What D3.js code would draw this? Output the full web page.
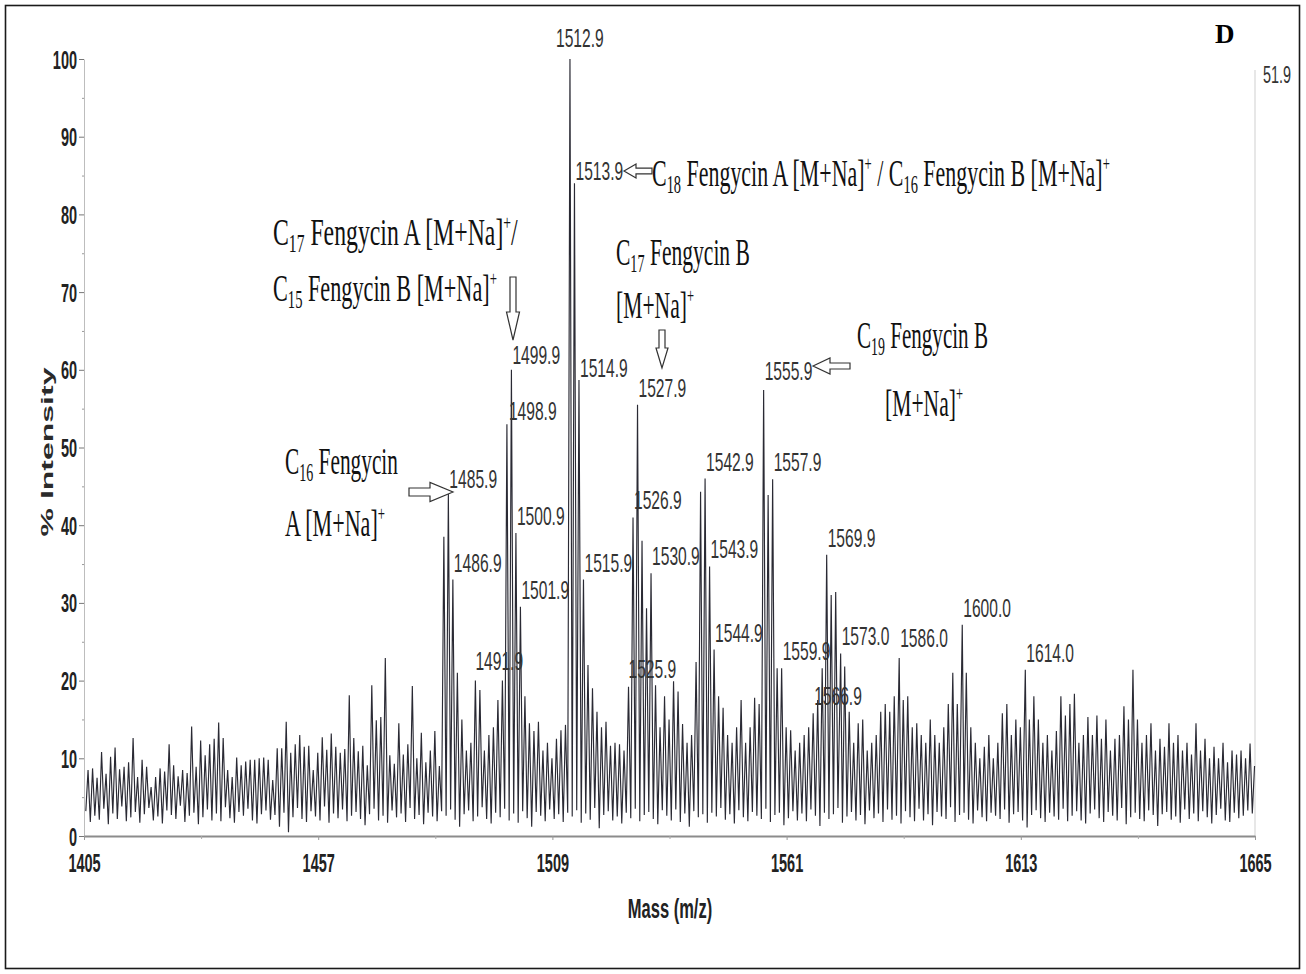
<!DOCTYPE html>
<html>
<head>
<meta charset="utf-8">
<script src="https://cdn.jsdelivr.net/npm/d3@7"></script>
<style>
  body { margin: 0; background: white; }
  text { white-space: pre; }
</style>
</head>
<body>
<div id="container"></div>
<script>
let w = 1306;
let h = 974;

// axis ticks
let massTicks = [1405, 1457, 1509, 1561, 1613, 1665];
let massMinor = [1431, 1483, 1535, 1587, 1639];
let pctTicks = [0, 10, 20, 30, 40, 50, 60, 70, 80, 90, 100];
let pctMinor = [5, 15, 25, 35, 45, 55, 65, 75, 85, 95];

// cluster peaks (m/z, % intensity)
let peakMz = [1484.9, 1485.9, 1486.9, 1487.9, 1491.9,
  1498.9, 1499.9, 1500.9, 1501.9, 1502.9,
  1512.9, 1513.9, 1514.9, 1515.9, 1516.9,
  1525.9, 1526.9, 1527.9, 1528.9, 1529.9, 1530.9, 1531.9,
  1540.9, 1541.9, 1542.9, 1543.9, 1544.9, 1545.9, 1546.9,
  1555.9, 1556.9, 1557.9, 1558.9, 1559.9,
  1566.9, 1567.9, 1568.9, 1569.9, 1570.9, 1571.9, 1573.0, 1573.9, 1574.9,
  1586.0, 1600.0, 1614.0];
let peakPct = [38.5, 44, 33, 21, 20,
  53, 60, 39, 29.5, 18,
  100, 84, 58.7, 33, 22,
  19.2, 41, 55.5, 38, 29.3, 33.8, 19.4,
  22.4, 44.3, 46, 34.7, 24, 18, 16.5,
  57.4, 43.9, 45.9, 21.6, 21.6,
  15.8, 17.5, 21.6, 36.2, 31, 31.4, 23.5, 21.8, 16,
  22.9, 27.2, 21.4];

// peaks carrying a mass label
let labelledMz = [1485.9, 1486.9, 1491.9, 1498.9, 1499.9, 1500.9, 1501.9,
  1512.9, 1513.9, 1514.9, 1515.9, 1525.9, 1526.9, 1527.9, 1530.9,
  1542.9, 1543.9, 1544.9, 1555.9, 1557.9, 1559.9,
  1566.9, 1569.9, 1573.0, 1586.0, 1600.0, 1614.0];

// background noise, one spike per unit from 1405.9 (null = cluster peak there)
let noiseHi = [
  8.5, 8.7, 7.5, 10.8, 8.0, 10.2, 11.4, 8.6, 8.9, 9.5, 12.6, 7.6, 9.8, 8.9, 6.3, 7.6, 8.7, 8.3, 11.8, 9.1,
  7.7, 8.5, 8.1, 14.1, 8.9, 12.3, 10.4, 11.8, 12.5, 14.6, 12.6, 8.5, 7.6, 10.1, 9.1, 9.6, 9.8, 9.8, 10.0, 10.1,
  9.8, 7.2, 11.3, 11.3, 14.7, 10.7, 11.8, 13.0, 11.5, 11.6, 8.5, 10.7, 12.7, 11.1, 13.2, 11.5, 10.7, 11.2, 18.1, 12.6,
  10.9, 11.6, 9.1, 19.4, 14.9, 15.3, 22.9, 10.4, 9.3, 14.5, 10.5, 11.8, 19.3, 10.0, 13.3, 9.5, 11.0, 13.5, 9.0, null,
  null, null, null, 15.0, 11.0, 12.0, null, 18.8, 11.0, 13.0, 14.0, 17.5, 20.0, null, null, null, null, null, 14.5, 13.5,
  14.7, 11.0, 12.0, 10.0, 12.5, 13.6, 14.3, null, null, null, null, null, 19.0, 16.0, 14.0, 14.7, 11.6, 12.0, 11.8, 11.0,
  null, null, null, null, null, null, null, 14.0, 18.0, 15.0, 19.9, 18.6, 14.4, 12.0, 13.0, null, null, null, null, null,
  null, null, 13.0, 12.0, 14.0, 17.5, 12.0, 14.0, 17.8, 17.0, null, null, null, null, null, 14.0, 13.6, 11.0, 12.0, 13.0,
  14.0, null, null, null, null, null, null, null, null, null, 12.0, 14.5, 15.0, 11.0, 12.0, 13.0, 16.0, 17.0, 16.0, 18.0,
  null, 17.5, 18.0, 14.0, 14.5, 13.0, 12.0, 15.0, 13.0, 12.0, 14.0, 17.0, 21.0, 17.0, null, 21.0, 14.0, 12.0, 10.0, 11.5,
  13.0, 10.0, 12.0, 15.8, 17.0, 13.0, 15.0, 14.0, null, 15.0, 18.0, 15.0, 12.0, 13.0, 11.0, 13.5, 18.0, 15.5, 17.0, 18.3,
  12.0, 13.0, 15.3, 13.0, 15.5, 12.5, 15.0, 11.0, 12.5, 13.0, 16.7, 15.0, 21.4, 15.0, 12.0, 13.0, 14.5, 11.0, 12.5, 11.5,
  14.5, 12.0, 13.0, 11.0, 12.0, 10.5, 14.5, 11.0, 12.5, 10.0, 11.5, 10.0, 12.0, 9.5, 11.0, 10.5, 11.0, 10.0, 11.9, 9.0
];
// valleys between the spikes, one per unit from 1405.4
let noiseLo = [
  3.2, 1.8, 2.6, 2.1, 3.5, 1.5, 2.9, 2.2, 3.8, 1.9, 2.4, 3.1, 1.7, 2.8, 3.6, 2.0, 2.5, 1.6, 3.3, 2.7,
  2.2, 3.9, 1.8, 2.6, 3.0, 1.5, 2.4, 3.4, 2.0, 2.9, 1.9, 3.7, 2.3, 1.7, 3.1, 2.6, 3.5, 2.0, 1.6, 2.8,
  3.3, 2.1, 2.7, 1.2, 3.0, 0.5, 2.4, 3.6, 2.2, 1.8, 3.2, 2.5, 2.0, 3.8, 1.7, 2.9, 2.3, 3.4, 1.9, 2.6,
  3.1, 2.2, 1.4, 2.8, 3.5, 2.0, 2.6, 1.7, 3.3, 2.4, 2.9, 1.8, 3.6, 2.2, 2.7, 1.5, 3.0, 2.5, 1.9, 3.2,
  2.6, 3.4, 2.1, 1.2, 2.8, 3.3, 1.9, 2.5, 3.7, 2.2, 1.6, 3.0, 2.4, 3.5, 2.0, 2.9, 1.7, 3.2, 2.3, 1.2,
  3.1, 2.6, 1.9, 3.4, 2.2, 2.8, 1.8, 3.0, 2.5, 3.3, 1.7, 2.9, 2.1, 3.6, 1.0, 2.7, 3.2, 2.0, 2.5, 1.6,
  3.0, 2.3, 3.5, 1.9, 2.7, 3.1, 2.2, 1.5, 3.3, 2.6, 2.0, 3.4, 1.8, 2.9, 1.2, 3.2, 2.4, 2.8, 1.7, 3.0,
  2.5, 3.6, 2.1, 2.8, 1.6, 3.3, 2.4, 1.9, 3.1, 2.6, 2.2, 3.5, 1.8, 2.7, 3.0, 1.4, 2.3, 3.2, 2.0, 2.9,
  1.9, 3.4, 2.6, 1.3, 3.0, 2.2, 2.8, 3.6, 1.7, 2.5, 3.1, 2.0, 2.7, 1.5, 3.3, 2.3, 2.9, 1.8, 3.4, 2.1,
  2.6, 1.6, 3.2, 2.4, 1.9, 3.5, 2.0, 2.8, 1.4, 3.1, 2.5, 2.2, 3.7, 1.8, 2.7, 3.0, 2.1, 1.6, 3.3, 2.4,
  1.9, 3.0, 2.6, 2.2, 3.4, 1.7, 2.8, 3.1, 2.0, 1.1, 2.7, 3.3, 2.3, 1.8, 3.0, 2.5, 2.1, 3.5, 1.9, 2.6,
  3.2, 2.0, 1.6, 2.9, 3.4, 2.3, 1.8, 3.1, 2.6, 2.0, 3.6, 1.5, 2.4, 3.0, 2.2, 1.9, 3.3, 2.7, 1.3, 2.8,
  3.1, 2.1, 2.5, 1.7, 3.4, 2.2, 2.9, 1.9, 3.2, 2.4, 1.6, 2.7, 3.5, 2.0, 1.8, 3.0, 2.3, 2.6, 3.3, 2.9
];

let sansFont = "'Liberation Sans', Arial, sans-serif";
let serifFont = "'Liberation Serif', 'Times New Roman', serif";

let viz = d3.select("#container")
  .append("svg")
    .attr("width", w)
    .attr("height", h)
    .style("background-color", "white")
;

let x = d3.scaleLinear().domain([1405, 1665]).range([84, 1255]);
let y = d3.scaleLinear().domain([0, 100]).range([836, 59]);

//outer frame
viz.append("rect")
  .attr("x", 5.5).attr("y", 5.5)
  .attr("width", 1294).attr("height", 963)
  .attr("fill", "none")
  .style("stroke", "#1a1a1a")
  .style("stroke-width", 1.6)
;

//right edge of the plot
viz.append("line")
  .attr("x1", x(1665)).attr("x2", x(1665))
  .attr("y1", 70).attr("y2", y(0))
  .style("stroke", "#cfcfcf")
  .style("stroke-width", 1)
;

//y axis
let yAxis = viz.append("g")
  .attr("transform", "translate(" + x(1405) + ",0)")
  .call(d3.axisLeft(y).tickValues(pctTicks).tickSize(5).tickSizeOuter(0));
yAxis.select(".domain").style("stroke", "#bdbdbd");
yAxis.selectAll(".tick line").style("stroke", "#777");
yAxis.selectAll(".tick text")
  .attr("x", -7 / 0.58)
  .attr("dy", "0.36em")
  .attr("transform", "scale(0.58,1)")
  .style("font-family", sansFont)
  .style("font-weight", "bold")
  .style("font-size", "25px")
  .style("fill", "#222")
;
viz.append("g")
  .attr("transform", "translate(" + x(1405) + ",0)")
  .call(d3.axisLeft(y).tickValues(pctMinor).tickSize(2).tickFormat(""))
  .call(g => g.select(".domain").remove())
  .selectAll(".tick line").style("stroke", "#999")
;

//x axis
let xAxis = viz.append("g")
  .attr("transform", "translate(0," + y(0) + ")")
  .call(d3.axisBottom(x).tickValues(massTicks).tickFormat(d3.format("d")).tickSize(4).tickSizeOuter(0));
xAxis.select(".domain").style("stroke", "#8c8c8c").style("stroke-width", 2);
xAxis.selectAll(".tick line").style("stroke", "#999");
xAxis.selectAll(".tick text")
  .attr("y", 36)
  .attr("dy", 0)
  .attr("transform", "scale(0.58,1)")
  .style("font-family", sansFont)
  .style("font-weight", "bold")
  .style("font-size", "25px")
  .style("fill", "#222")
;
viz.append("g")
  .attr("transform", "translate(0," + y(0) + ")")
  .call(d3.axisBottom(x).tickValues(massMinor).tickSize(3).tickFormat(""))
  .call(g => g.select(".domain").remove())
  .selectAll(".tick line").style("stroke", "#aaa")
;

//spectrum trace
let peakAt = {};
peakMz.forEach(function(m, k){
  peakAt[Math.round(m - 1405.9)] = [m, peakPct[k]];
});
let trace = [];
noiseLo.forEach(function(lo, i){
  trace.push([1405 + i + 0.4, lo]);
  if (peakAt[i]) {
    trace.push(peakAt[i]);
  } else {
    trace.push([1405 + i + 0.9, noiseHi[i]]);
  }
});
let line = d3.line()
  .x(d => x(d[0]))
  .y(d => y(d[1]));
viz.append("path")
  .attr("d", line(trace))
  .attr("fill", "none")
  .style("stroke", "#2a2a34")
  .style("stroke-width", 1.15)
;

//peak labels
let nudge = {
  "1512.9": [-14, -12], "1513.9": [1, -3], "1514.9": [1, -2.5],
  "1498.9": [2, -4.5], "1499.9": [1, -5.5], "1485.9": [1, -6.5],
  "1491.9": [0, -11], "1586.0": [1, -11], "1555.9": [1, -10], "1525.9": [0, -9]
};
viz.selectAll(".peakLabel").data(labelledMz).enter()
  .append("text")
    .attr("class", "peakLabel")
    .text(d => d.toFixed(1))
    .attr("transform", function(d){
      let k = peakMz.indexOf(d);
      let n = nudge[d.toFixed(1)] || [1, -8];
      return "translate(" + (x(d) + n[0]) + "," + (y(peakPct[k]) + n[1]) + ") scale(0.6,1)";
    })
    .style("font-family", sansFont)
    .style("font-size", "26px")
    .style("fill", "#333")
;

//axis titles
viz.append("text")
  .text("Mass (m/z)")
  .attr("text-anchor", "middle")
  .attr("transform", "translate(670,918) scale(0.59,1)")
  .style("font-family", sansFont)
  .style("font-weight", "bold")
  .style("font-size", "28px")
  .style("fill", "#222")
;
let yTitle = viz.append("text")
  .text("% Intensity")
  .attr("text-anchor", "middle")
  .style("font-family", sansFont)
  .style("font-weight", "bold")
  .style("font-size", "17px")
  .style("fill", "#2a2a2a")
;
let yTitleW = yTitle.node().getBBox().width;
yTitle.attr("transform", "translate(53,452) rotate(-90) scale(" + (170 / yTitleW) + ",1)");

viz.append("text")
  .text("51.9")
  .attr("transform", "translate(1263,83) scale(0.6,1)")
  .style("font-family", sansFont)
  .style("font-size", "24px")
  .style("fill", "#333")
;

viz.append("text")
  .text("D")
  .attr("x", 1215)
  .attr("y", 43)
  .style("font-family", serifFont)
  .style("font-weight", "bold")
  .style("font-size", "27px")
  .style("fill", "#000")
;

//annotations in Times with sub/superscripts, squeezed to the widths in the picture
function richText(px, py, parts, width){
  let t = viz.append("text")
    .style("font-family", serifFont)
    .style("font-size", "38px")
    .style("fill", "#111");
  let shift = 0;
  parts.forEach(function(p){
    let kind = p[1];
    let target = kind === "sub" ? 7 : kind === "sup" ? -15 : 0;
    let ts = t.append("tspan").text(p[0]).attr("dy", target - shift);
    shift = target;
    if (kind === "sub") ts.style("font-size", "25px");
    if (kind === "sup") ts.style("font-size", "22px");
  });
  let bw = t.node().getBBox().width;
  t.attr("transform", "translate(" + px + "," + py + ") scale(" + (width / bw) + ",1)");
}

let mNa = [["[M+Na]"], ["+", "sup"]];
richText(273, 245, [["C"], ["17", "sub"], [" Fengycin A [M+Na]"], ["+", "sup"], ["/"]], 245);
richText(273, 301, [["C"], ["15", "sub"], [" Fengycin B [M+Na]"], ["+", "sup"]], 224);
richText(652, 186, [["C"], ["18", "sub"], [" Fengycin A [M+Na]"], ["+", "sup"], [" / C"], ["16", "sub"], [" Fengycin B [M+Na]"], ["+", "sup"]], 458);
richText(616, 265, [["C"], ["17", "sub"], [" Fengycin B"]], 134);
richText(616, 318, mNa, 78);
richText(857, 348, [["C"], ["19", "sub"], [" Fengycin B"]], 131);
richText(885, 416, mNa, 78);
richText(285, 474, [["C"], ["16", "sub"], [" Fengycin"]], 113);
richText(285, 536, [["A [M+Na]"], ["+", "sup"]], 100);

//hollow block arrows: tip, direction, total length, head length, half widths
function blockArrow(tx, ty, dir, len, head, sh, hh){
  let pts = [[0, 0], [head, -hh], [head, -sh], [len, -sh], [len, sh], [head, sh], [head, hh]];
  let rot = {left: 0, right: 180, down: -90, up: 90}[dir];
  viz.append("polygon")
    .attr("points", pts.map(p => p.join(",")).join(" "))
    .attr("transform", "translate(" + tx + "," + ty + ") rotate(" + rot + ")")
    .attr("fill", "white")
    .style("stroke", "#333")
    .style("stroke-width", 1.2)
  ;
}
blockArrow(513, 340, "down", 63, 28, 3, 6.5);
blockArrow(624, 171, "left", 28, 12, 2.8, 7);
blockArrow(662, 368, "down", 38, 20, 3, 6);
blockArrow(813, 366, "left", 37, 17, 3, 8);
blockArrow(453, 492, "right", 44, 23, 4, 9.5);
</script>
</body>
</html>
